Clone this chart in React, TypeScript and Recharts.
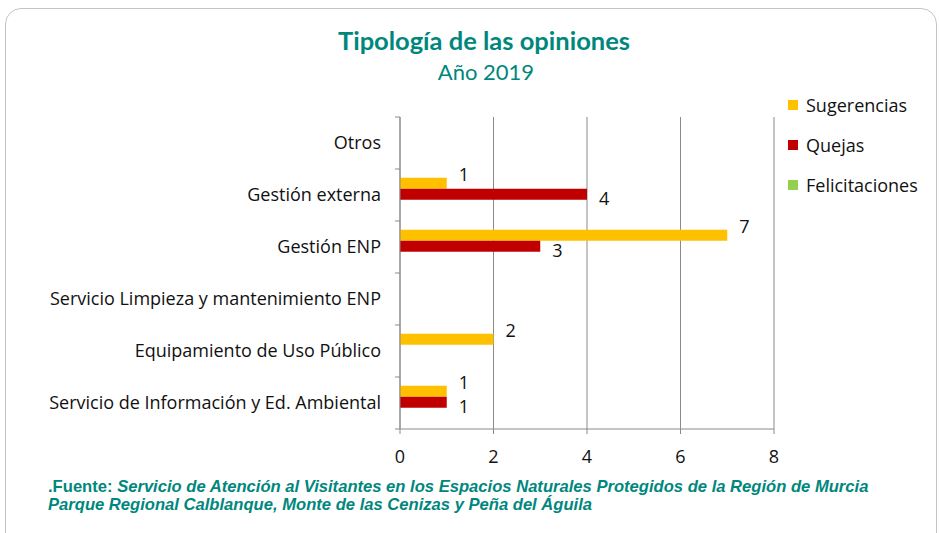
import { BarChart, Bar, XAxis, YAxis, CartesianGrid, LabelList } from 'recharts';

const categories = [
  'Otros',
  'Gestión externa',
  'Gestión ENP',
  'Servicio Limpieza y mantenimiento ENP',
  'Equipamiento de Uso Público',
  'Servicio de Información y Ed. Ambiental',
];
const sugerencias = [0, 1, 7, 0, 2, 1];
const quejas = [0, 4, 3, 0, 0, 1];
const felicitaciones = [0, 0, 0, 0, 0, 0];
const xTicks = [0, 2, 4, 6, 8];

const series = [
  { key: 'Sugerencias', color: '#FFC000', dy: -8 },
  { key: 'Quejas', color: '#C00000', dy: 5 },
  { key: 'Felicitaciones', color: '#92D050', dy: 0 },
];

const data = categories.map((c, i) => ({
  name: c,
  Sugerencias: sugerencias[i],
  Quejas: quejas[i],
  Felicitaciones: felicitaciones[i],
}));

const W = 939;
const H = 533;
const TOP = 117;
const BOTTOM = 104;
const XAXIS_H = 30;
const BAND = (H - TOP - BOTTOM) / categories.length;
const AXIS = '#8a8a8a';
const TEAL = '#00877D';
const FS = 18;
const FONT = '"Open Sans", "Noto Sans", sans-serif';
const TITLE_FONT = 'Lato, "Noto Sans", sans-serif';

function CatTick(props: any) {
  const { x, y, payload, index } = props;
  return (
    <g>
      <text x={x - 19} y={y} dy={6} textAnchor="end" fontSize={FS} fill="#111" fontFamily={FONT}>
        {payload.value}
      </text>
      <line x1={x - 5} x2={x} y1={y - BAND / 2} y2={y - BAND / 2} stroke={AXIS} />
      {index === categories.length - 1 && (
        <line x1={x - 5} x2={x} y1={y + BAND / 2} y2={y + BAND / 2} stroke={AXIS} />
      )}
    </g>
  );
}

function valueLabel(dy: number) {
  return (props: any) => {
    const { x, y, width, height, value } = props;
    if (!value) return null;
    return (
      <text x={x + width + 12} y={y + height / 2 + dy} dy={6} fontSize={FS} fill="#111" fontFamily={FONT}>
        {value}
      </text>
    );
  };
}

export default function App() {
  return (
    <div style={{ position: 'absolute', left: 0, top: 0, width: W, height: H, overflow: 'hidden', background: '#fff', fontFamily: FONT }}>
      <div style={{ position: 'absolute', left: 5, top: 8, width: 930, height: 560, border: '1px solid #c4c4c4', borderRadius: 16 }} />
      <div style={{ position: 'absolute', left: 0, width: 968, top: 25, textAlign: 'center', color: TEAL, fontFamily: TITLE_FONT, fontWeight: 700, fontSize: 25.5, lineHeight: '30px' }}>
        Tipología de las opiniones
      </div>
      <div style={{ position: 'absolute', left: 0, width: 972, top: 58, textAlign: 'center', color: TEAL, fontFamily: TITLE_FONT, fontSize: 22, lineHeight: '28px' }}>
        Año 2019
      </div>
      <div style={{ position: 'absolute', left: 0, top: 0 }}>
        <BarChart
          width={W}
          height={H}
          data={data}
          layout="vertical"
          margin={{ top: TOP, right: 165, bottom: BOTTOM - XAXIS_H, left: 0 }}
          barCategoryGap="17%"
          barGap={0}
        >
          <CartesianGrid horizontal={false} stroke={AXIS} />
          <XAxis
            type="number"
            domain={[0, 8]}
            ticks={xTicks}
            interval={0}
            height={XAXIS_H}
            stroke={AXIS}
            tickSize={5}
            tickMargin={16}
            tick={{ fontSize: FS, fill: '#111', fontFamily: FONT }}
          />
          <YAxis
            type="category"
            dataKey="name"
            width={400}
            stroke={AXIS}
            tickLine={false}
            tickSize={0}
            tickMargin={0}
            interval={0}
            tick={<CatTick />}
          />
          {series.map((s) => (
            <Bar key={s.key} dataKey={s.key} fill={s.color} isAnimationActive={false}>
              <LabelList dataKey={s.key} content={valueLabel(s.dy)} />
            </Bar>
          ))}
        </BarChart>
      </div>
      {series.map((s, i) => (
        <div key={s.key} style={{ position: 'absolute', left: 788, top: 95 + i * 40, height: 20, display: 'flex', alignItems: 'center', fontSize: FS, color: '#111' }}>
          <span style={{ display: 'inline-block', width: 10, height: 10, background: s.color, marginRight: 8 }} />
          {s.key}
        </div>
      ))}
      <div style={{ position: 'absolute', left: 48, top: 478, color: TEAL, fontFamily: '"Liberation Sans", Arial, sans-serif', fontWeight: 700, fontSize: 16.6, lineHeight: '18px' }}>
        .Fuente: <i>Servicio de Atención al Visitantes en los Espacios Naturales Protegidos de la Región de Murcia</i>
        <br />
        <i>Parque Regional Calblanque, Monte de las Cenizas y Peña del Águila</i>
      </div>
    </div>
  );
}
